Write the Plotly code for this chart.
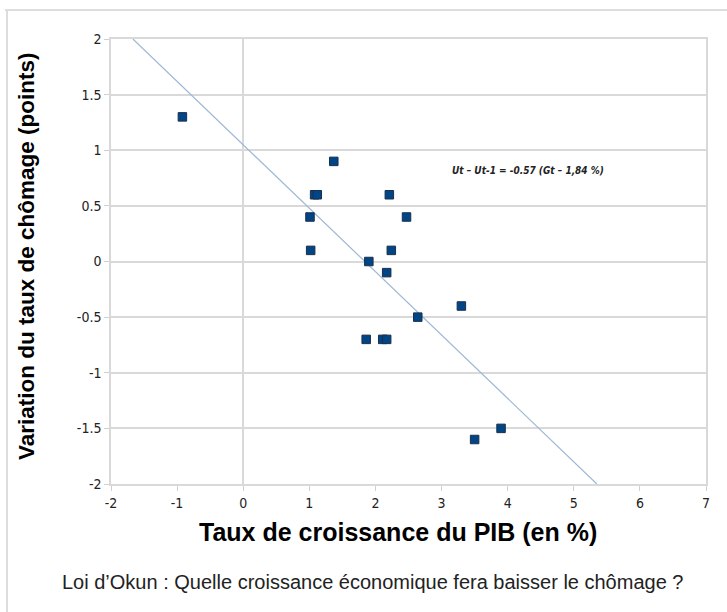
import plotly.graph_objects as go

# Data
growth = [-0.92, 1.37, 1.08, 1.12, 1.01, 1.02, 1.90, 2.21, 2.47, 2.24, 2.17,
          3.30, 2.64, 1.86, 2.11, 2.17, 3.50, 3.90]
unemp_change = [1.3, 0.9, 0.6, 0.6, 0.4, 0.1, 0.0, 0.6, 0.4, 0.1, -0.1,
                -0.4, -0.5, -0.7, -0.7, -0.7, -1.6, -1.5]

# Okun regression: Ut - Ut-1 = -0.57 (Gt - 1.84)
okun_slope = -0.57
okun_x0 = 1.84
y_range = [-2, 2]
x_range = [-2, 7]
x_ticks = [-2, -1, 0, 1, 2, 3, 4, 5, 6, 7]
y_ticks = [-2, -1.5, -1, -0.5, 0, 0.5, 1, 1.5, 2]

trend_y = [y_range[1], y_range[0]]
trend_x = [okun_x0 + yy / okun_slope for yy in trend_y]

W, H = 727, 612
ML, MR, MT, MB = 111, 21, 39, 128
pw = W - ML - MR
ph = H - MT - MB

def px(x):
    return (x - ML) / pw

def py(y):
    return (H - MB - y) / ph

fig = go.Figure()
fig.add_trace(go.Scatter(
    x=trend_x, y=trend_y, mode="lines",
    line=dict(color="#9db8d6", width=1.2), hoverinfo="skip", showlegend=False))
fig.add_trace(go.Scatter(
    x=growth, y=unemp_change, mode="markers",
    marker=dict(symbol="square", size=8.5, color="#004586",
                line=dict(color="#1d2f4a", width=1)),
    showlegend=False))

tickfont = dict(family="Liberation Sans Narrow, DejaVu Sans Condensed, Arial Narrow, sans-serif",
                size=14, color="#222222")

fig.update_xaxes(range=x_range, tickvals=x_ticks, ticktext=[str(v) for v in x_ticks],
                 showgrid=False, zeroline=True, zerolinecolor="#d9d9d9", zerolinewidth=1.5,
                 showline=True, linecolor="#d9d9d9", linewidth=1.5, mirror=True,
                 ticks="outside", ticklen=5, tickcolor="#d0d0d0", tickfont=tickfont)
fig.update_yaxes(range=y_range, tickvals=y_ticks,
                 ticktext=[("%g" % v) for v in y_ticks],
                 showgrid=True, gridcolor="#d9d9d9", gridwidth=1.5,
                 zeroline=True, zerolinecolor="#d9d9d9", zerolinewidth=1.5,
                 showline=True, linecolor="#d9d9d9", linewidth=1.5, mirror=True,
                 ticks="outside", ticklen=5, tickcolor="#d0d0d0", tickfont=tickfont)

fig.add_annotation(x=4.30, y=0.82, xref="x", yref="y", showarrow=False,
                   text="<b><i>Ut – Ut-1 = -0.57 (Gt – 1,84 %)</i></b>",
                   font=dict(family="Liberation Sans Narrow, DejaVu Sans Condensed, sans-serif",
                             size=10, color="#222222"))

fig.add_annotation(x=px(26), y=py(256), xref="paper", yref="paper", showarrow=False,
                   text="<b>Variation du taux de chômage (points)</b>", textangle=-90,
                   xanchor="center", yanchor="middle",
                   font=dict(family="Liberation Sans, Arial, sans-serif", size=22.5, color="#000000"))
fig.add_annotation(x=px(398), y=py(532), xref="paper", yref="paper", showarrow=False,
                   text="<b>Taux de croissance du PIB (en %)</b>",
                   xanchor="center", yanchor="middle",
                   font=dict(family="Liberation Sans, Arial, sans-serif", size=25, color="#000000"))
fig.add_annotation(x=px(372.5), y=py(582), xref="paper", yref="paper", showarrow=False,
                   text="Loi d’Okun : Quelle croissance économique fera baisser le chômage ?",
                   xanchor="center", yanchor="middle",
                   font=dict(family="Liberation Sans, Arial, sans-serif", size=20, color="#222222"))

# outer frame (top and left edges)
fig.add_shape(type="line", xref="paper", yref="paper", x0=px(5), x1=px(727), y0=py(10), y1=py(10),
              line=dict(color="#dddddd", width=2), layer="below")
fig.add_shape(type="line", xref="paper", yref="paper", x0=px(7), x1=px(7), y0=py(10), y1=py(612),
              line=dict(color="#dddddd", width=2), layer="below")

fig.update_layout(width=W, height=H, margin=dict(l=ML, r=MR, t=MT, b=MB),
                  plot_bgcolor="white", paper_bgcolor="white", showlegend=False)

fig.write_html("out.html", config={"displayModeBar": False},
               post_script="document.body.style.margin='0';document.body.style.overflow='hidden';")
